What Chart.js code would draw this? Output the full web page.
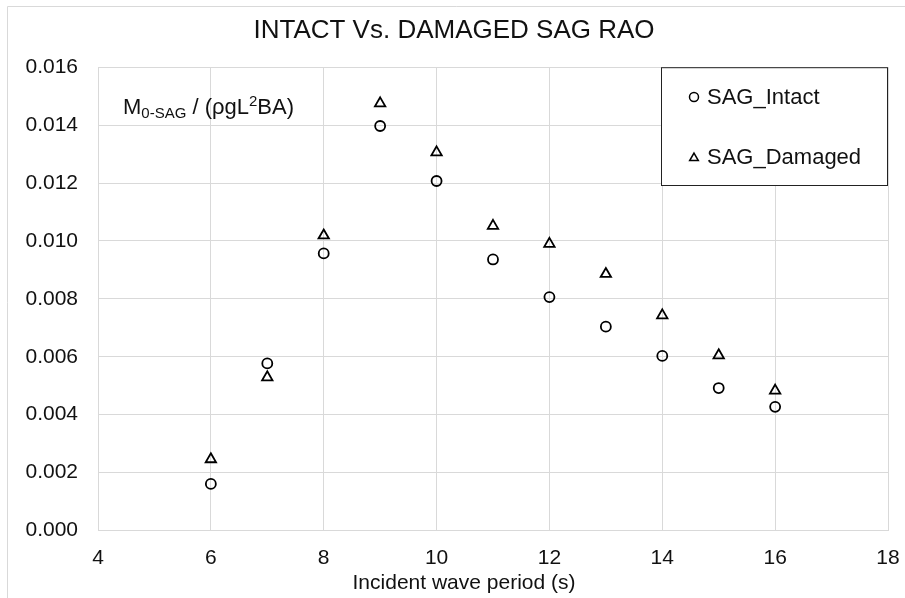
<!DOCTYPE html>
<html>
<head>
<meta charset="utf-8">
<title>INTACT Vs. DAMAGED SAG RAO</title>
<script src="https://cdn.jsdelivr.net/npm/chart.js@4/dist/chart.umd.min.js"></script>
<style>
  html, body { margin: 0; padding: 0; background: #fff; }
  #wrap { width: 905px; height: 598px; }
</style>
</head>
<body>
<div id="wrap"><canvas id="myChart" width="905" height="598"></canvas></div>
<script>
// wave periods (s)
const periods = [6, 7, 8, 9, 10, 11, 12, 13, 14, 15, 16];

// non-dimensional sag moment
const sagIntact = [0.00161, 0.00577, 0.00957, 0.01397, 0.01207, 0.00936, 0.00806, 0.00704, 0.00603, 0.00492, 0.00427];
const sagDamaged = [0.00246, 0.00529, 0.01019, 0.01475, 0.01306, 0.01052, 0.0099, 0.00886, 0.00743, 0.00605, 0.00483];

// axis ticks
const xTicks = [4, 6, 8, 10, 12, 14, 16, 18];
const yTicks = [0, 0.002, 0.004, 0.006, 0.008, 0.01, 0.012, 0.014, 0.016];

const xTitle = "Incident wave period (s)";

const FONT = "'Liberation Sans', Arial, sans-serif";
const TEXT = "#111";
const GRID = "#d9d9d9";

function toPoints(xs, ys) {
  return xs.map((x, i) => ({ x: x, y: ys[i] }));
}

// light border round the whole figure (only left and top are in the crop)
const frame = {
  id: "frame",
  beforeDraw(chart) {
    const ctx = chart.ctx;
    ctx.save();
    ctx.strokeStyle = GRID;
    ctx.lineWidth = 1;
    ctx.beginPath();
    ctx.moveTo(7.5, chart.height);
    ctx.lineTo(7.5, 6.5);
    ctx.lineTo(chart.width, 6.5);
    ctx.stroke();
    ctx.restore();
  },
};

// the y label sits inside the plot, with a sub and a superscript
// the x title is not centred on the plot in the original, so draw it here too
const labels = {
  id: "labels",
  afterDraw(chart) {
    const ctx = chart.ctx;
    const big = "22px " + FONT;
    const small = "15px " + FONT;
    const base = 113.5;
    let x = 123;
    const parts = [
      ["M", big, 0],
      ["0-SAG", small, 4.5],
      [" / (ρgL", big, 0],
      ["2", small, -8],
      ["BA)", big, 0],
    ];
    ctx.save();
    ctx.fillStyle = TEXT;
    ctx.textBaseline = "alphabetic";
    ctx.textAlign = "left";
    parts.forEach((p) => {
      ctx.font = p[1];
      ctx.fillText(p[0], x, base + p[2]);
      x += ctx.measureText(p[0]).width;
    });

    ctx.font = "21px " + FONT;
    ctx.textAlign = "center";
    ctx.textBaseline = "middle";
    ctx.fillText(xTitle, 464, 583);
    ctx.restore();
  },
};

// boxed legend in the top right corner of the plot
const boxLegend = {
  id: "boxLegend",
  afterDraw(chart) {
    const ctx = chart.ctx;
    const area = chart.chartArea;
    const left = 661.5;
    const top = area.top + 0.5;
    const right = area.right - 0.5;
    const bottom = 185.5;
    ctx.save();
    ctx.fillStyle = "#fff";
    ctx.fillRect(left, top, right - left, bottom - top);
    ctx.strokeStyle = "#222";
    ctx.lineWidth = 1;
    ctx.strokeRect(left, top, right - left, bottom - top);
    const rows = [97, 157];
    chart.data.datasets.forEach((ds, i) => {
      ctx.fillStyle = "rgba(0,0,0,0)";
      ctx.strokeStyle = "#000";
      ctx.lineWidth = 1.5;
      Chart.helpers.drawPoint(ctx, {
        pointStyle: ds.pointStyle,
        radius: ds.pointStyle === "triangle" ? 5 : 4.5,
        borderWidth: 1.5,
      }, 694, rows[i] + (ds.pointStyle === "triangle" ? 1 : 0));
      ctx.fillStyle = TEXT;
      ctx.font = "22px " + FONT;
      ctx.textBaseline = "middle";
      ctx.textAlign = "left";
      ctx.fillText(ds.label, 707, rows[i] + 1);
    });
    ctx.restore();
  },
};

const ctx = document.getElementById("myChart").getContext("2d");

new Chart(ctx, {
  type: "scatter",
  data: {
    datasets: [
      {
        label: "SAG_Intact",
        data: toPoints(periods, sagIntact),
        pointStyle: "circle",
        pointRadius: 5,
        borderColor: "#000",
        backgroundColor: "rgba(0,0,0,0)",
        pointBorderWidth: 1.8,
      },
      {
        label: "SAG_Damaged",
        data: toPoints(periods, sagDamaged),
        pointStyle: "triangle",
        pointRadius: 6,
        borderColor: "#000",
        backgroundColor: "rgba(0,0,0,0)",
        pointBorderWidth: 1.8,
      },
    ],
  },
  options: {
    responsive: false,
    animation: false,
    layout: { padding: { left: 20, right: 17, top: 0, bottom: 0 } },
    plugins: {
      legend: { display: false },
      tooltip: { enabled: false },
      title: {
        display: true,
        text: "INTACT Vs. DAMAGED SAG RAO",
        color: TEXT,
        font: { family: FONT, size: 26, weight: "normal", lineHeight: 1.2 },
        padding: { top: 15, bottom: 21 },
      },
    },
    scales: {
      x: {
        type: "linear",
        min: 4,
        max: 18,
        afterBuildTicks: (s) => { s.ticks = xTicks.map((v) => ({ value: v })); },
        afterFit: (s) => {
          s.height = 67.5;
          s.paddingLeft = 0;
          s.paddingRight = 0;
        },
        grid: { color: GRID, drawTicks: false, lineWidth: 1 },
        border: { display: false },
        ticks: {
          color: TEXT,
          padding: 15,
          font: { family: FONT, size: 21 },
        },
      },
      y: {
        type: "linear",
        min: 0,
        max: 0.016,
        afterBuildTicks: (s) => { s.ticks = yTicks.map((v) => ({ value: v })); },
        afterFit: (s) => {
          s.width = 78;
          s.paddingTop = 0;
          s.paddingBottom = 0;
        },
        grid: { color: GRID, drawTicks: false, lineWidth: 1 },
        border: { display: false },
        ticks: {
          color: TEXT,
          padding: 20,
          font: { family: FONT, size: 21 },
          callback: (v) => v.toFixed(3),
        },
      },
    },
  },
  plugins: [frame, labels, boxLegend],
});
</script>
</body>
</html>
